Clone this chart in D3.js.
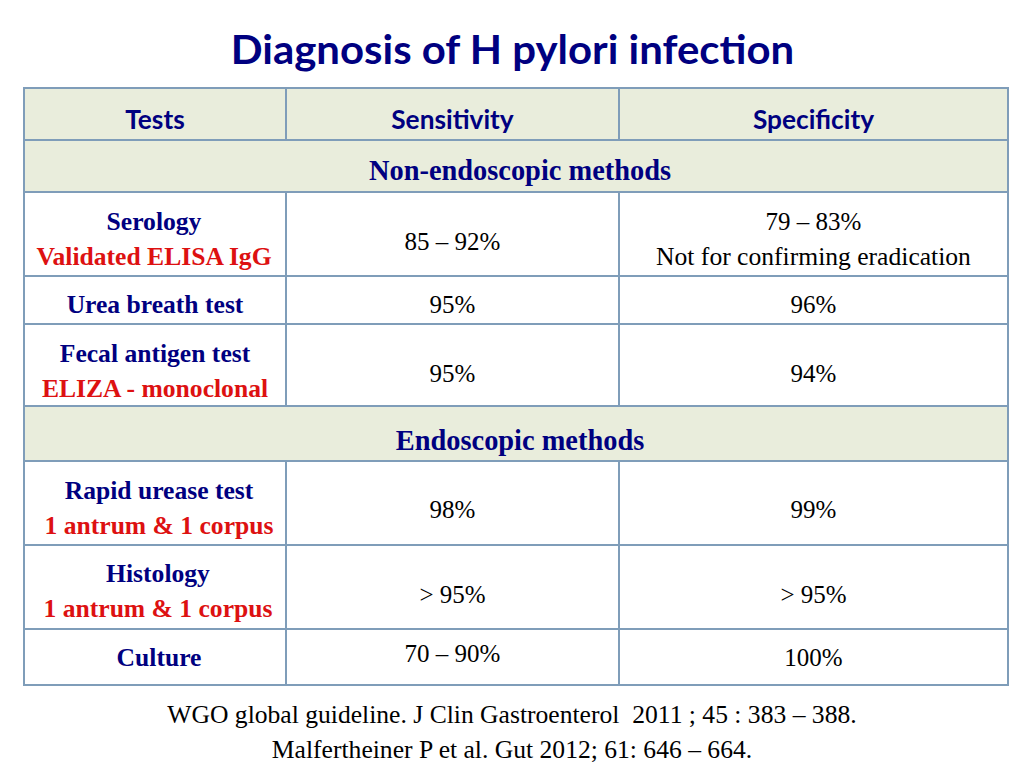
<!DOCTYPE html>
<html>
<head>
<meta charset="utf-8">
<script src="https://cdn.jsdelivr.net/npm/d3@7"></script>
<style>
  html, body { margin: 0; padding: 0; background: #fff; }
  svg { display: block; }
  .sans { font-family: Lato, "Open Sans", sans-serif; font-weight: 700; }
  .serif { font-family: "Liberation Serif", "Times New Roman", serif; }
</style>
</head>
<body>
<svg id="chart" width="1024" height="768"></svg>
<script>
// table text
const titleText = "Diagnosis of H pylori infection";
const columns = ["Tests", "Sensitivity", "Specificity"];
const groups = ["Non-endoscopic methods", "Endoscopic methods"];
const tests = ["Serology", "Urea breath test", "Fecal antigen test", "Rapid urease test", "Histology", "Culture"];
const testNotes = ["Validated ELISA IgG", "", "ELIZA - monoclonal", "1 antrum & 1 corpus", "1 antrum & 1 corpus", ""];
const sensitivity = ["85 – 92%", "95%", "95%", "98%", "> 95%", "70 – 90%"];
const specificity = ["79 – 83%", "96%", "94%", "99%", "> 95%", "100%"];
const specificityNotes = ["Not for confirming eradication", "", "", "", "", ""];
const footnotes = ["WGO global guideline. J Clin Gastroenterol  2011 ; 45 : 383 – 388.", "Malfertheiner P et al. Gut 2012; 61: 646 – 664."];

// row order, top to bottom
const rowKeys = ["head", groups[0], tests[0], tests[1], tests[2], groups[1], tests[3], tests[4], tests[5], "end"];

// layout
const colEdges = [24, 286, 619, 1008];
const rowEdges = [88, 140, 192, 276, 324, 406, 461, 545, 629, 685];
const y = d3.scaleOrdinal(rowKeys, rowEdges);
const groupDy = [40, 44];
const testDy = [38, 37, 38, 38, 37, 37];
const testDx = [-1, 0, 0, 4, 3, 4];
const noteDy = [73, 0, 73, 73, 72, 0];
const sensDy = [58, 37, 58, 57, 58, 33];
const specDy = [38, 37, 58, 57, 58, 37];
const specNoteDy = [73, 0, 0, 0, 0, 0];
const left = colEdges[0], right = colEdges[3];
const groupX = 520;

const navy = "#000080", red = "#dd1111", lineColor = "#7f9db9", fillColor = "#e9eddc";

const svg = d3.select("#chart");

// cell centre of a column
function midX(i) {
  return (colEdges[i] + colEdges[i + 1]) / 2;
}

// the row under a given row
function nextRow(d) {
  return rowKeys[rowKeys.indexOf(d) + 1];
}

// the slide is stretched a little, so stretch Lato with it
function stretch(sel, k) {
  sel.each(function () {
    const w = this.getComputedTextLength();
    d3.select(this).attr("textLength", w * k).attr("lengthAdjust", "spacingAndGlyphs");
  });
}

// shaded rows
svg.selectAll("rect.shade")
  .data(["head", groups[0], groups[1]])
  .join("rect")
  .attr("class", "shade")
  .attr("x", left)
  .attr("width", right - left)
  .attr("y", d => y(d))
  .attr("height", d => y(nextRow(d)) - y(d))
  .attr("fill", fillColor);

// horizontal rules
svg.selectAll("line.h")
  .data(rowKeys)
  .join("line")
  .attr("class", "h")
  .attr("x1", left - 1).attr("x2", right + 1)
  .attr("y1", d => y(d)).attr("y2", d => y(d))
  .attr("stroke", lineColor).attr("stroke-width", 2);

// outer verticals
svg.selectAll("line.outer")
  .data([left, right])
  .join("line")
  .attr("class", "outer")
  .attr("x1", d => d).attr("x2", d => d)
  .attr("y1", y("head") - 1).attr("y2", y("end") + 1)
  .attr("stroke", lineColor).attr("stroke-width", 2);

// inner verticals skip the group rows
const innerSpans = d3.cross(colEdges.slice(1, 3), ["head"].concat(tests));
svg.selectAll("line.inner")
  .data(innerSpans)
  .join("line")
  .attr("class", "inner")
  .attr("x1", d => d[0]).attr("x2", d => d[0])
  .attr("y1", d => y(d[1]))
  .attr("y2", d => y(nextRow(d[1])))
  .attr("stroke", lineColor).attr("stroke-width", 2);

// title
svg.append("text")
  .attr("class", "sans")
  .attr("x", 512.5).attr("y", 64)
  .attr("text-anchor", "middle")
  .attr("font-size", 40)
  .attr("fill", navy)
  .text(titleText)
  .call(stretch, 1.048);

// header row
svg.selectAll("text.col")
  .data(columns)
  .join("text")
  .attr("class", "col sans")
  .attr("x", (d, i) => midX(i))
  .attr("y", y("head") + 41)
  .attr("text-anchor", "middle")
  .attr("font-size", 26)
  .attr("fill", navy)
  .text(d => d)
  .call(stretch, 1.01);

// group rows
svg.selectAll("text.group")
  .data(groups)
  .join("text")
  .attr("class", "group serif")
  .attr("x", groupX)
  .attr("y", (d, i) => y(d) + groupDy[i])
  .attr("text-anchor", "middle")
  .attr("font-size", 28.4)
  .attr("font-weight", 700)
  .attr("fill", navy)
  .text(d => d);

// one text column of the body
function bodyColumn(values, dys, col, color, weight, size, dxs) {
  svg.append("g")
    .selectAll("text")
    .data(values.map((v, i) => ({ v, i })).filter(d => d.v !== ""))
    .join("text")
    .attr("class", "serif")
    .attr("x", d => midX(col) + (dxs ? dxs[d.i] : 0))
    .attr("y", d => y(tests[d.i]) + dys[d.i])
    .attr("text-anchor", "middle")
    .attr("font-size", size)
    .attr("font-weight", weight)
    .attr("fill", color)
    .text(d => d.v);
}

bodyColumn(tests, testDy, 0, navy, 700, 25.6, testDx);
bodyColumn(testNotes, noteDy, 0, red, 700, 25.6, testDx);
bodyColumn(sensitivity, sensDy, 1, "#000", 400, 25);
bodyColumn(specificity, specDy, 2, "#000", 400, 25);
bodyColumn(specificityNotes, specNoteDy, 2, "#000", 400, 25.6);

// references under the table
svg.selectAll("text.foot")
  .data(footnotes)
  .join("text")
  .attr("class", "foot serif")
  .attr("x", 512)
  .attr("y", (d, i) => 723 + i * 35)
  .attr("text-anchor", "middle")
  .attr("font-size", 25.6)
  .attr("fill", "#000")
  .style("white-space", "pre")
  .text(d => d);
</script>
</body>
</html>
